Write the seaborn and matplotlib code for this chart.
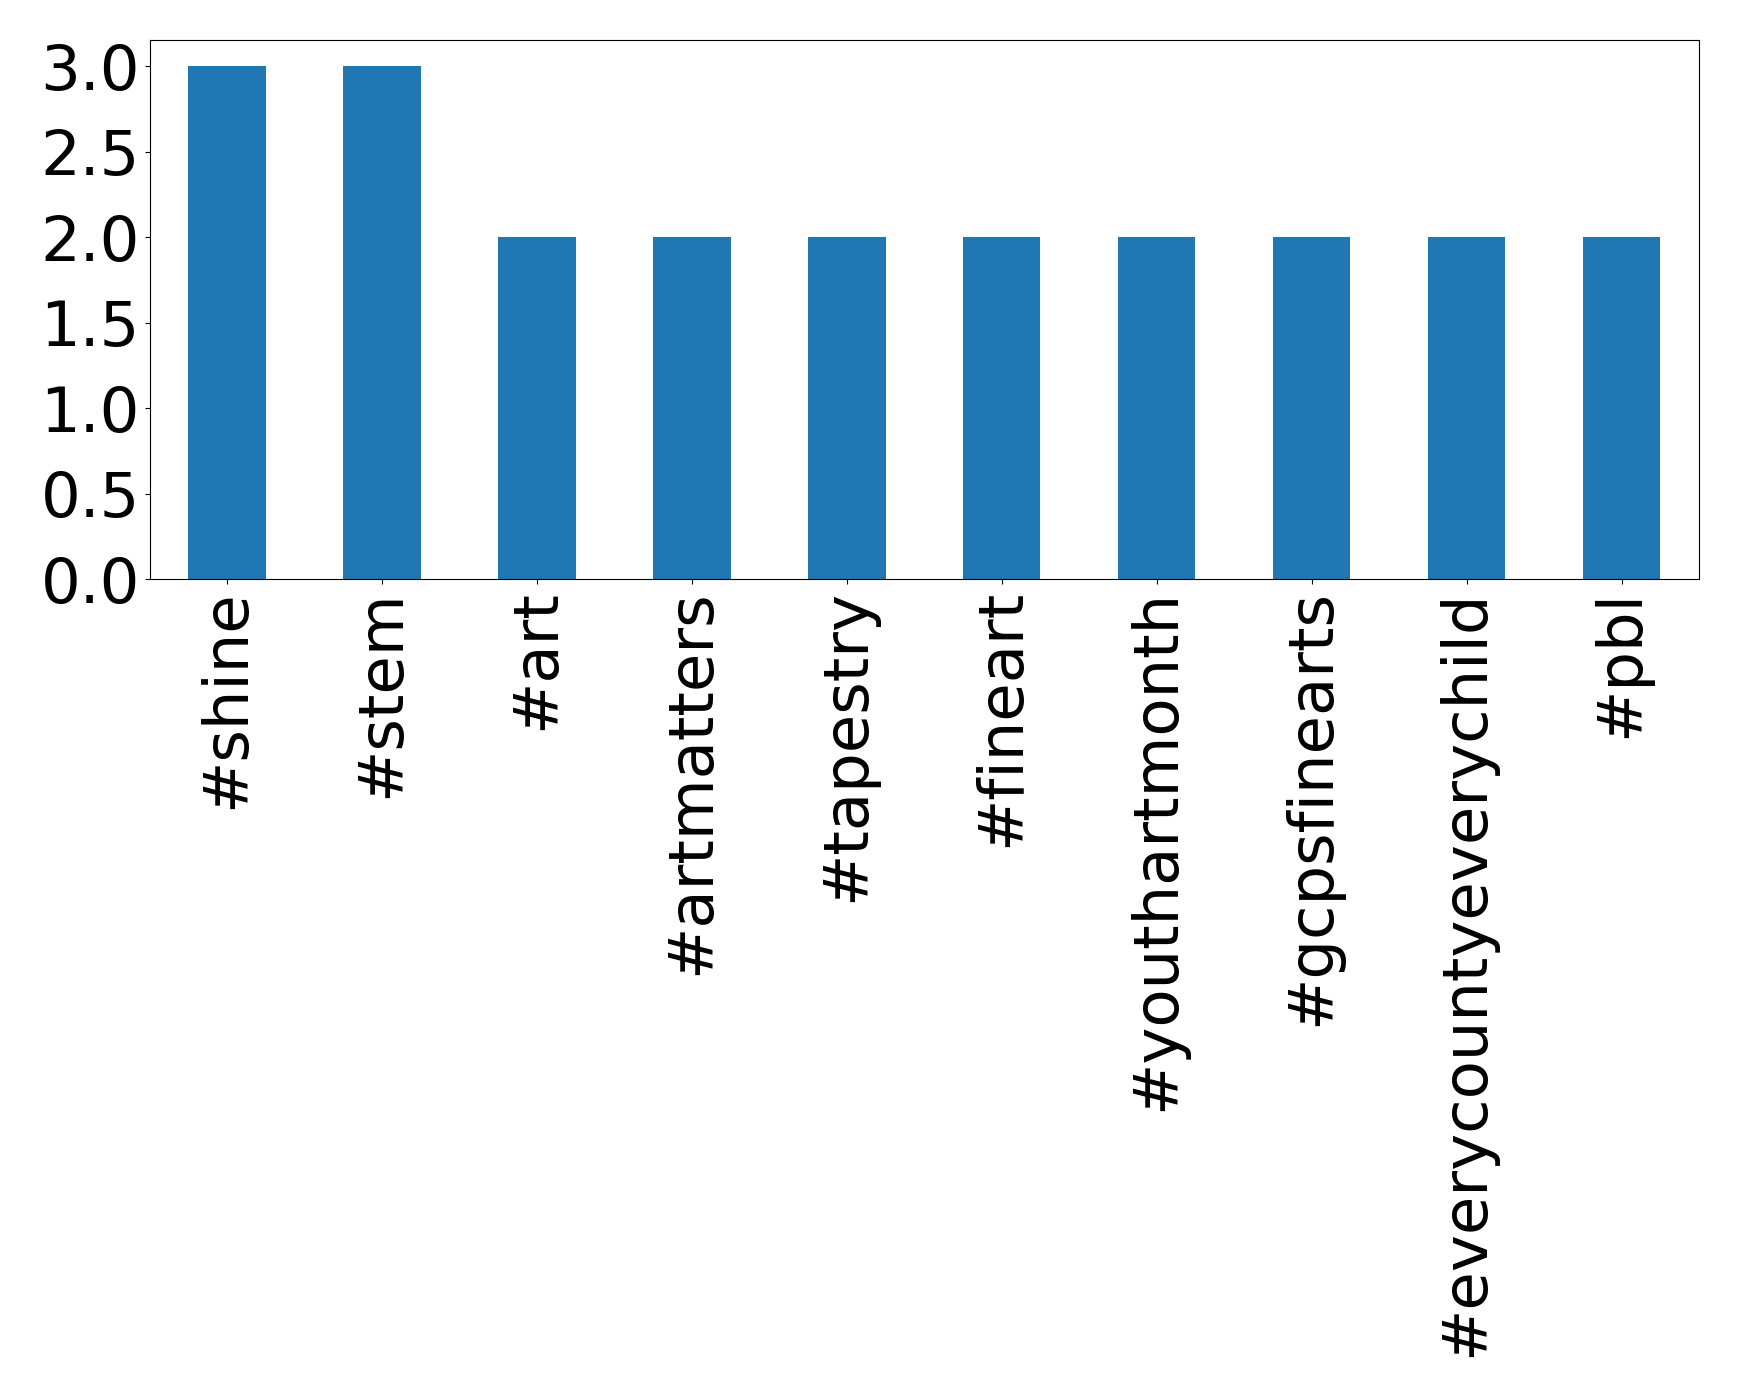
import matplotlib
matplotlib.use("Agg")
import matplotlib.pyplot as plt
import seaborn as sns

hashtags = ["#shine", "#stem", "#art", "#artmatters", "#tapestry", "#fineart",
            "#youthartmonth", "#gcpsfinearts", "#everycountyeverychild", "#pbl"]
counts = [3, 3, 2, 2, 2, 2, 2, 2, 2, 2]

fig, ax = plt.subplots(figsize=(17.39, 13.96), dpi=100)
sns.barplot(x=hashtags, y=counts, ax=ax, color="#1f77b4", saturation=1, width=0.5)
ax.set_xlim(-0.5, len(hashtags) - 0.5)
ax.set_ylim(0, 3.15)
ax.set_yticks([0.0, 0.5, 1.0, 1.5, 2.0, 2.5, 3.0])
ax.set_yticklabels(["0.0", "0.5", "1.0", "1.5", "2.0", "2.5", "3.0"])
ax.tick_params(axis="both", labelsize=45)
plt.setp(ax.get_xticklabels(), rotation=90)
fig.subplots_adjust(left=0.086, right=0.977, top=0.971, bottom=0.585)
fig.savefig("out.png", dpi=100)
